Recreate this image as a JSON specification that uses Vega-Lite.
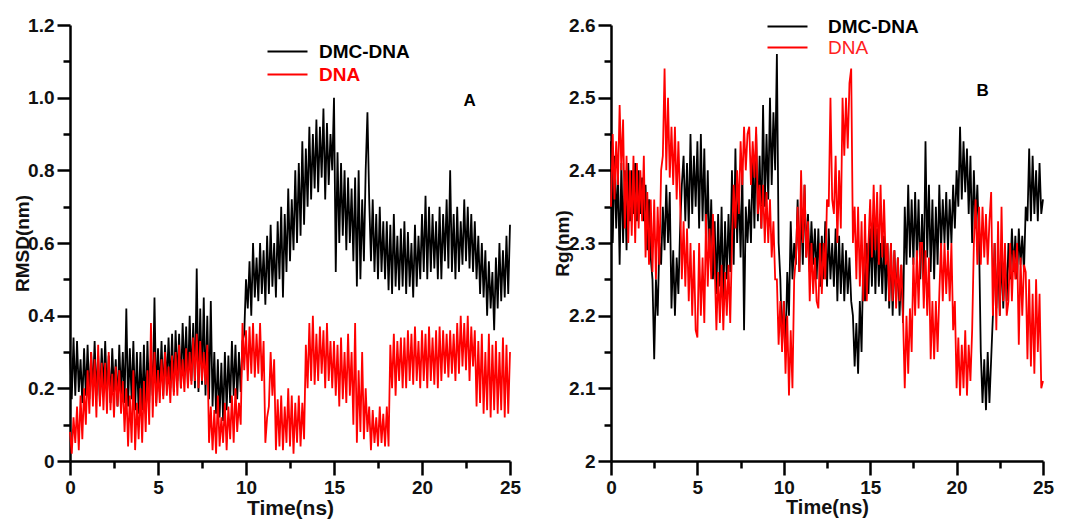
{
  "$schema": "https://vega.github.io/schema/vega-lite/v6.json",
  "padding": {"left": 13, "top": 16, "right": 5, "bottom": 5},
  "background": "white",
  "config": {
    "view": {"stroke": null},
    "font": "Liberation Sans",
    "axis": {
      "grid": false, "domainColor": "#000000", "domainWidth": 2.5, "tickColor": "#000000", "tickWidth": 2.5,
      "labelFont": "Liberation Sans", "labelFontSize": 19, "labelFontWeight": "bold", "labelColor": "#111111", "labelPadding": 3, "labelOverlap": false, "labelFlush": false,
      "titleFont": "Liberation Sans", "titleFontWeight": "bold", "titleColor": "#111111"
    }
  },
  "datasets": {
    "rmsd": [
      {"t":0,"dmc":0.30,"dna":0.08},{"t":0.1,"dmc":0.17,"dna":0.02},{"t":0.2,"dmc":0.34,"dna":0.12},{"t":0.3,"dmc":0.18,"dna":0.05},{"t":0.4,"dmc":0.33,"dna":0.15},{"t":0.5,"dmc":0.19,"dna":0.03},{"t":0.6,"dmc":0.28,"dna":0.18},{"t":0.7,"dmc":0.16,"dna":0.06},{"t":0.8,"dmc":0.31,"dna":0.2},{"t":0.9,"dmc":0.18,"dna":0.1},
      {"t":1,"dmc":0.32,"dna":0.25},{"t":1.1,"dmc":0.17,"dna":0.13},{"t":1.2,"dmc":0.30,"dna":0.3},{"t":1.3,"dmc":0.19,"dna":0.15},{"t":1.4,"dmc":0.33,"dna":0.28},{"t":1.5,"dmc":0.18,"dna":0.12},{"t":1.6,"dmc":0.29,"dna":0.32},{"t":1.7,"dmc":0.16,"dna":0.15},{"t":1.8,"dmc":0.31,"dna":0.27},{"t":1.9,"dmc":0.19,"dna":0.14},
      {"t":2,"dmc":0.33,"dna":0.27},{"t":2.1,"dmc":0.18,"dna":0.13},{"t":2.2,"dmc":0.29,"dna":0.3},{"t":2.3,"dmc":0.16,"dna":0.14},{"t":2.4,"dmc":0.31,"dna":0.24},{"t":2.5,"dmc":0.19,"dna":0.12},{"t":2.6,"dmc":0.28,"dna":0.26},{"t":2.7,"dmc":0.15,"dna":0.15},{"t":2.8,"dmc":0.32,"dna":0.25},{"t":2.9,"dmc":0.18,"dna":0.13},
      {"t":3,"dmc":0.30,"dna":0.22},{"t":3.1,"dmc":0.16,"dna":0.08},{"t":3.2,"dmc":0.42,"dna":0.2},{"t":3.3,"dmc":0.15,"dna":0.04},{"t":3.4,"dmc":0.31,"dna":0.18},{"t":3.5,"dmc":0.17,"dna":0.05},{"t":3.6,"dmc":0.33,"dna":0.25},{"t":3.7,"dmc":0.14,"dna":0.03},{"t":3.8,"dmc":0.30,"dna":0.16},{"t":3.9,"dmc":0.13,"dna":0.06},
      {"t":4,"dmc":0.30,"dna":0.2},{"t":4.1,"dmc":0.14,"dna":0.05},{"t":4.2,"dmc":0.32,"dna":0.22},{"t":4.3,"dmc":0.13,"dna":0.08},{"t":4.4,"dmc":0.33,"dna":0.25},{"t":4.5,"dmc":0.16,"dna":0.1},{"t":4.6,"dmc":0.29,"dna":0.38},{"t":4.7,"dmc":0.18,"dna":0.12},{"t":4.8,"dmc":0.45,"dna":0.3},{"t":4.9,"dmc":0.16,"dna":0.15},
      {"t":5,"dmc":0.31,"dna":0.25},{"t":5.1,"dmc":0.19,"dna":0.16},{"t":5.2,"dmc":0.33,"dna":0.28},{"t":5.3,"dmc":0.18,"dna":0.17},{"t":5.4,"dmc":0.32,"dna":0.3},{"t":5.5,"dmc":0.21,"dna":0.18},{"t":5.6,"dmc":0.34,"dna":0.26},{"t":5.7,"dmc":0.2,"dna":0.16},{"t":5.8,"dmc":0.35,"dna":0.29},{"t":5.9,"dmc":0.19,"dna":0.18},
      {"t":6,"dmc":0.36,"dna":0.3},{"t":6.1,"dmc":0.22,"dna":0.18},{"t":6.2,"dmc":0.35,"dna":0.32},{"t":6.3,"dmc":0.2,"dna":0.2},{"t":6.4,"dmc":0.38,"dna":0.28},{"t":6.5,"dmc":0.24,"dna":0.19},{"t":6.6,"dmc":0.37,"dna":0.31},{"t":6.7,"dmc":0.21,"dna":0.2},{"t":6.8,"dmc":0.4,"dna":0.3},{"t":6.9,"dmc":0.22,"dna":0.21},
      {"t":7,"dmc":0.38,"dna":0.34},{"t":7.1,"dmc":0.2,"dna":0.22},{"t":7.2,"dmc":0.53,"dna":0.35},{"t":7.3,"dmc":0.19,"dna":0.2},{"t":7.4,"dmc":0.42,"dna":0.33},{"t":7.5,"dmc":0.21,"dna":0.22},{"t":7.6,"dmc":0.45,"dna":0.3},{"t":7.7,"dmc":0.18,"dna":0.21},{"t":7.8,"dmc":0.4,"dna":0.32},{"t":7.9,"dmc":0.17,"dna":0.05},
      {"t":8,"dmc":0.44,"dna":0.15},{"t":8.1,"dmc":0.15,"dna":0.03},{"t":8.2,"dmc":0.3,"dna":0.14},{"t":8.3,"dmc":0.13,"dna":0.02},{"t":8.4,"dmc":0.28,"dna":0.18},{"t":8.5,"dmc":0.12,"dna":0.04},{"t":8.6,"dmc":0.27,"dna":0.12},{"t":8.7,"dmc":0.11,"dna":0.05},{"t":8.8,"dmc":0.3,"dna":0.16},{"t":8.9,"dmc":0.14,"dna":0.03},
      {"t":9,"dmc":0.29,"dna":0.15},{"t":9.1,"dmc":0.16,"dna":0.06},{"t":9.2,"dmc":0.33,"dna":0.18},{"t":9.3,"dmc":0.18,"dna":0.05},{"t":9.4,"dmc":0.32,"dna":0.2},{"t":9.5,"dmc":0.17,"dna":0.08},{"t":9.6,"dmc":0.3,"dna":0.16},{"t":9.7,"dmc":0.19,"dna":0.1},{"t":9.8,"dmc":0.33,"dna":0.38},{"t":9.9,"dmc":0.35,"dna":0.25},
      {"t":10,"dmc":0.5,"dna":0.36},{"t":10.1,"dmc":0.42,"dna":0.22},{"t":10.2,"dmc":0.55,"dna":0.37},{"t":10.3,"dmc":0.4,"dna":0.24},{"t":10.4,"dmc":0.6,"dna":0.38},{"t":10.5,"dmc":0.45,"dna":0.23},{"t":10.6,"dmc":0.56,"dna":0.35},{"t":10.7,"dmc":0.44,"dna":0.24},{"t":10.8,"dmc":0.6,"dna":0.38},{"t":10.9,"dmc":0.46,"dna":0.22},
      {"t":11,"dmc":0.58,"dna":0.33},{"t":11.1,"dmc":0.43,"dna":0.05},{"t":11.2,"dmc":0.62,"dna":0.12},{"t":11.3,"dmc":0.46,"dna":0.15},{"t":11.4,"dmc":0.65,"dna":0.3},{"t":11.5,"dmc":0.48,"dna":0.18},{"t":11.6,"dmc":0.6,"dna":0.28},{"t":11.7,"dmc":0.45,"dna":0.03},{"t":11.8,"dmc":0.66,"dna":0.17},{"t":11.9,"dmc":0.5,"dna":0.04},
      {"t":12,"dmc":0.7,"dna":0.18},{"t":12.1,"dmc":0.45,"dna":0.03},{"t":12.2,"dmc":0.68,"dna":0.15},{"t":12.3,"dmc":0.52,"dna":0.05},{"t":12.4,"dmc":0.75,"dna":0.2},{"t":12.5,"dmc":0.55,"dna":0.04},{"t":12.6,"dmc":0.72,"dna":0.18},{"t":12.7,"dmc":0.58,"dna":0.02},{"t":12.8,"dmc":0.8,"dna":0.16},{"t":12.9,"dmc":0.6,"dna":0.05},
      {"t":13,"dmc":0.82,"dna":0.18},{"t":13.1,"dmc":0.62,"dna":0.04},{"t":13.2,"dmc":0.88,"dna":0.16},{"t":13.3,"dmc":0.65,"dna":0.06},{"t":13.4,"dmc":0.86,"dna":0.32},{"t":13.5,"dmc":0.7,"dna":0.2},{"t":13.6,"dmc":0.92,"dna":0.38},{"t":13.7,"dmc":0.72,"dna":0.22},{"t":13.8,"dmc":0.9,"dna":0.4},{"t":13.9,"dmc":0.75,"dna":0.21},
      {"t":14,"dmc":0.94,"dna":0.35},{"t":14.1,"dmc":0.74,"dna":0.22},{"t":14.2,"dmc":0.92,"dna":0.37},{"t":14.3,"dmc":0.78,"dna":0.24},{"t":14.4,"dmc":0.97,"dna":0.36},{"t":14.5,"dmc":0.72,"dna":0.2},{"t":14.6,"dmc":0.93,"dna":0.38},{"t":14.7,"dmc":0.76,"dna":0.22},{"t":14.8,"dmc":0.9,"dna":0.33},{"t":14.9,"dmc":0.8,"dna":0.2},
      {"t":15,"dmc":1.0,"dna":0.33},{"t":15.1,"dmc":0.52,"dna":0.18},{"t":15.2,"dmc":0.85,"dna":0.32},{"t":15.3,"dmc":0.6,"dna":0.15},{"t":15.4,"dmc":0.82,"dna":0.34},{"t":15.5,"dmc":0.62,"dna":0.17},{"t":15.6,"dmc":0.8,"dna":0.3},{"t":15.7,"dmc":0.58,"dna":0.16},{"t":15.8,"dmc":0.78,"dna":0.35},{"t":15.9,"dmc":0.6,"dna":0.18},
      {"t":16,"dmc":0.75,"dna":0.3},{"t":16.1,"dmc":0.55,"dna":0.1},{"t":16.2,"dmc":0.78,"dna":0.38},{"t":16.3,"dmc":0.48,"dna":0.05},{"t":16.4,"dmc":0.8,"dna":0.25},{"t":16.5,"dmc":0.5,"dna":0.08},{"t":16.6,"dmc":0.72,"dna":0.3},{"t":16.7,"dmc":0.55,"dna":0.06},{"t":16.8,"dmc":0.8,"dna":0.2},{"t":16.9,"dmc":0.96,"dna":0.08},
      {"t":17,"dmc":0.72,"dna":0.15},{"t":17.1,"dmc":0.55,"dna":0.03},{"t":17.2,"dmc":0.72,"dna":0.14},{"t":17.3,"dmc":0.52,"dna":0.05},{"t":17.4,"dmc":0.68,"dna":0.12},{"t":17.5,"dmc":0.5,"dna":0.04},{"t":17.6,"dmc":0.7,"dna":0.15},{"t":17.7,"dmc":0.52,"dna":0.05},{"t":17.8,"dmc":0.66,"dna":0.13},{"t":17.9,"dmc":0.5,"dna":0.04},
      {"t":18,"dmc":0.66,"dna":0.15},{"t":18.1,"dmc":0.47,"dna":0.04},{"t":18.2,"dmc":0.65,"dna":0.32},{"t":18.3,"dmc":0.46,"dna":0.2},{"t":18.4,"dmc":0.68,"dna":0.35},{"t":18.5,"dmc":0.48,"dna":0.18},{"t":18.6,"dmc":0.62,"dna":0.33},{"t":18.7,"dmc":0.47,"dna":0.22},{"t":18.8,"dmc":0.64,"dna":0.34},{"t":18.9,"dmc":0.48,"dna":0.2},
      {"t":19,"dmc":0.66,"dna":0.34},{"t":19.1,"dmc":0.46,"dna":0.2},{"t":19.2,"dmc":0.63,"dna":0.36},{"t":19.3,"dmc":0.48,"dna":0.22},{"t":19.4,"dmc":0.6,"dna":0.35},{"t":19.5,"dmc":0.45,"dna":0.21},{"t":19.6,"dmc":0.65,"dna":0.37},{"t":19.7,"dmc":0.48,"dna":0.22},{"t":19.8,"dmc":0.62,"dna":0.33},{"t":19.9,"dmc":0.5,"dna":0.2},
      {"t":20,"dmc":0.68,"dna":0.36},{"t":20.1,"dmc":0.52,"dna":0.22},{"t":20.2,"dmc":0.73,"dna":0.35},{"t":20.3,"dmc":0.5,"dna":0.2},{"t":20.4,"dmc":0.7,"dna":0.37},{"t":20.5,"dmc":0.52,"dna":0.22},{"t":20.6,"dmc":0.68,"dna":0.34},{"t":20.7,"dmc":0.53,"dna":0.21},{"t":20.8,"dmc":0.66,"dna":0.36},{"t":20.9,"dmc":0.5,"dna":0.2},
      {"t":21,"dmc":0.7,"dna":0.37},{"t":21.1,"dmc":0.5,"dna":0.22},{"t":21.2,"dmc":0.68,"dna":0.36},{"t":21.3,"dmc":0.55,"dna":0.24},{"t":21.4,"dmc":0.72,"dna":0.35},{"t":21.5,"dmc":0.53,"dna":0.23},{"t":21.6,"dmc":0.8,"dna":0.36},{"t":21.7,"dmc":0.52,"dna":0.24},{"t":21.8,"dmc":0.68,"dna":0.35},{"t":21.9,"dmc":0.5,"dna":0.22},
      {"t":22,"dmc":0.7,"dna":0.38},{"t":22.1,"dmc":0.52,"dna":0.24},{"t":22.2,"dmc":0.66,"dna":0.4},{"t":22.3,"dmc":0.54,"dna":0.26},{"t":22.4,"dmc":0.72,"dna":0.38},{"t":22.5,"dmc":0.55,"dna":0.25},{"t":22.6,"dmc":0.7,"dna":0.4},{"t":22.7,"dmc":0.53,"dna":0.22},{"t":22.8,"dmc":0.68,"dna":0.37},{"t":22.9,"dmc":0.52,"dna":0.26},
      {"t":23,"dmc":0.66,"dna":0.36},{"t":23.1,"dmc":0.5,"dna":0.15},{"t":23.2,"dmc":0.62,"dna":0.33},{"t":23.3,"dmc":0.46,"dna":0.16},{"t":23.4,"dmc":0.6,"dna":0.35},{"t":23.5,"dmc":0.45,"dna":0.13},{"t":23.6,"dmc":0.58,"dna":0.3},{"t":23.7,"dmc":0.4,"dna":0.14},{"t":23.8,"dmc":0.55,"dna":0.35},{"t":23.9,"dmc":0.42,"dna":0.12},
      {"t":24,"dmc":0.52,"dna":0.32},{"t":24.1,"dmc":0.36,"dna":0.14},{"t":24.2,"dmc":0.56,"dna":0.33},{"t":24.3,"dmc":0.42,"dna":0.13},{"t":24.4,"dmc":0.6,"dna":0.3},{"t":24.5,"dmc":0.44,"dna":0.14},{"t":24.6,"dmc":0.58,"dna":0.34},{"t":24.7,"dmc":0.45,"dna":0.12},{"t":24.8,"dmc":0.62,"dna":0.32},{"t":24.9,"dmc":0.46,"dna":0.13},
      {"t":25,"dmc":0.65,"dna":0.3}
    ],
    "rg": [
      {"t":0,"dmc":2.44,"dna":2.35},{"t":0.1,"dmc":2.3,"dna":2.45},{"t":0.2,"dmc":2.42,"dna":2.36},{"t":0.3,"dmc":2.32,"dna":2.44},{"t":0.4,"dmc":2.4,"dna":2.38},{"t":0.5,"dmc":2.27,"dna":2.49},{"t":0.6,"dmc":2.41,"dna":2.4},{"t":0.7,"dmc":2.3,"dna":2.47},{"t":0.8,"dmc":2.4,"dna":2.32},{"t":0.9,"dmc":2.29,"dna":2.42},
      {"t":1,"dmc":2.41,"dna":2.3},{"t":1.1,"dmc":2.33,"dna":2.4},{"t":1.2,"dmc":2.4,"dna":2.31},{"t":1.3,"dmc":2.34,"dna":2.42},{"t":1.4,"dmc":2.41,"dna":2.3},{"t":1.5,"dmc":2.33,"dna":2.41},{"t":1.6,"dmc":2.4,"dna":2.32},{"t":1.7,"dmc":2.34,"dna":2.4},{"t":1.8,"dmc":2.39,"dna":2.33},{"t":1.9,"dmc":2.33,"dna":2.42},
      {"t":2,"dmc":2.38,"dna":2.28},{"t":2.1,"dmc":2.29,"dna":2.37},{"t":2.2,"dmc":2.36,"dna":2.27},{"t":2.3,"dmc":2.28,"dna":2.36},{"t":2.4,"dmc":2.25,"dna":2.26},{"t":2.5,"dmc":2.14,"dna":2.36},{"t":2.6,"dmc":2.25,"dna":2.25},{"t":2.7,"dmc":2.2,"dna":2.35},{"t":2.8,"dmc":2.3,"dna":2.27},{"t":2.9,"dmc":2.27,"dna":2.4},
      {"t":3,"dmc":2.35,"dna":2.42},{"t":3.1,"dmc":2.29,"dna":2.54},{"t":3.2,"dmc":2.38,"dna":2.4},{"t":3.3,"dmc":2.3,"dna":2.5},{"t":3.4,"dmc":2.37,"dna":2.39},{"t":3.5,"dmc":2.21,"dna":2.46},{"t":3.6,"dmc":2.29,"dna":2.38},{"t":3.7,"dmc":2.2,"dna":2.46},{"t":3.8,"dmc":2.28,"dna":2.36},{"t":3.9,"dmc":2.23,"dna":2.44},
      {"t":4,"dmc":2.32,"dna":2.36},{"t":4.1,"dmc":2.38,"dna":2.25},{"t":4.2,"dmc":2.42,"dna":2.33},{"t":4.3,"dmc":2.33,"dna":2.24},{"t":4.4,"dmc":2.41,"dna":2.32},{"t":4.5,"dmc":2.32,"dna":2.22},{"t":4.6,"dmc":2.45,"dna":2.3},{"t":4.7,"dmc":2.34,"dna":2.2},{"t":4.8,"dmc":2.42,"dna":2.29},{"t":4.9,"dmc":2.35,"dna":2.18},
      {"t":5,"dmc":2.44,"dna":2.17},{"t":5.1,"dmc":2.32,"dna":2.3},{"t":5.2,"dmc":2.45,"dna":2.2},{"t":5.3,"dmc":2.33,"dna":2.28},{"t":5.4,"dmc":2.43,"dna":2.19},{"t":5.5,"dmc":2.3,"dna":2.34},{"t":5.6,"dmc":2.4,"dna":2.24},{"t":5.7,"dmc":2.28,"dna":2.32},{"t":5.8,"dmc":2.36,"dna":2.25},{"t":5.9,"dmc":2.25,"dna":2.34},
      {"t":6,"dmc":2.33,"dna":2.27},{"t":6.1,"dmc":2.23,"dna":2.18},{"t":6.2,"dmc":2.34,"dna":2.26},{"t":6.3,"dmc":2.24,"dna":2.19},{"t":6.4,"dmc":2.35,"dna":2.27},{"t":6.5,"dmc":2.22,"dna":2.18},{"t":6.6,"dmc":2.33,"dna":2.26},{"t":6.7,"dmc":2.25,"dna":2.2},{"t":6.8,"dmc":2.34,"dna":2.27},{"t":6.9,"dmc":2.26,"dna":2.19},
      {"t":7,"dmc":2.4,"dna":2.3},{"t":7.1,"dmc":2.27,"dna":2.38},{"t":7.2,"dmc":2.43,"dna":2.32},{"t":7.3,"dmc":2.3,"dna":2.4},{"t":7.4,"dmc":2.38,"dna":2.34},{"t":7.5,"dmc":2.28,"dna":2.44},{"t":7.6,"dmc":2.4,"dna":2.38},{"t":7.7,"dmc":2.18,"dna":2.46},{"t":7.8,"dmc":2.35,"dna":2.4},{"t":7.9,"dmc":2.3,"dna":2.45},
      {"t":8,"dmc":2.36,"dna":2.46},{"t":8.1,"dmc":2.3,"dna":2.38},{"t":8.2,"dmc":2.42,"dna":2.44},{"t":8.3,"dmc":2.32,"dna":2.39},{"t":8.4,"dmc":2.45,"dna":2.46},{"t":8.5,"dmc":2.33,"dna":2.34},{"t":8.6,"dmc":2.42,"dna":2.38},{"t":8.7,"dmc":2.32,"dna":2.32},{"t":8.8,"dmc":2.49,"dna":2.38},{"t":8.9,"dmc":2.35,"dna":2.3},
      {"t":9,"dmc":2.45,"dna":2.37},{"t":9.1,"dmc":2.36,"dna":2.3},{"t":9.2,"dmc":2.5,"dna":2.36},{"t":9.3,"dmc":2.38,"dna":2.28},{"t":9.4,"dmc":2.48,"dna":2.33},{"t":9.5,"dmc":2.4,"dna":2.25},{"t":9.6,"dmc":2.56,"dna":2.25},{"t":9.7,"dmc":2.3,"dna":2.16},{"t":9.8,"dmc":2.25,"dna":2.22},{"t":9.9,"dmc":2.16,"dna":2.15},
      {"t":10,"dmc":2.22,"dna":2.22},{"t":10.1,"dmc":2.15,"dna":2.12},{"t":10.2,"dmc":2.26,"dna":2.2},{"t":10.3,"dmc":2.2,"dna":2.09},{"t":10.4,"dmc":2.33,"dna":2.18},{"t":10.5,"dmc":2.25,"dna":2.1},{"t":10.6,"dmc":2.3,"dna":2.25},{"t":10.7,"dmc":2.27,"dna":2.28},{"t":10.8,"dmc":2.36,"dna":2.35},{"t":10.9,"dmc":2.26,"dna":2.26},
      {"t":11,"dmc":2.35,"dna":2.4},{"t":11.1,"dmc":2.27,"dna":2.3},{"t":11.2,"dmc":2.38,"dna":2.38},{"t":11.3,"dmc":2.28,"dna":2.28},{"t":11.4,"dmc":2.34,"dna":2.33},{"t":11.5,"dmc":2.26,"dna":2.22},{"t":11.6,"dmc":2.33,"dna":2.3},{"t":11.7,"dmc":2.27,"dna":2.23},{"t":11.8,"dmc":2.32,"dna":2.28},{"t":11.9,"dmc":2.25,"dna":2.22},
      {"t":12,"dmc":2.32,"dna":2.21},{"t":12.1,"dmc":2.24,"dna":2.3},{"t":12.2,"dmc":2.31,"dna":2.23},{"t":12.3,"dmc":2.25,"dna":2.3},{"t":12.4,"dmc":2.33,"dna":2.25},{"t":12.5,"dmc":2.24,"dna":2.36},{"t":12.6,"dmc":2.32,"dna":2.35},{"t":12.7,"dmc":2.25,"dna":2.5},{"t":12.8,"dmc":2.3,"dna":2.36},{"t":12.9,"dmc":2.24,"dna":2.34},
      {"t":13,"dmc":2.32,"dna":2.42},{"t":13.1,"dmc":2.22,"dna":2.3},{"t":13.2,"dmc":2.31,"dna":2.4},{"t":13.3,"dmc":2.23,"dna":2.32},{"t":13.4,"dmc":2.3,"dna":2.5},{"t":13.5,"dmc":2.22,"dna":2.42},{"t":13.6,"dmc":2.29,"dna":2.5},{"t":13.7,"dmc":2.23,"dna":2.43},{"t":13.8,"dmc":2.28,"dna":2.52},{"t":13.9,"dmc":2.22,"dna":2.54},
      {"t":14,"dmc":2.2,"dna":2.3},{"t":14.1,"dmc":2.13,"dna":2.35},{"t":14.2,"dmc":2.19,"dna":2.25},{"t":14.3,"dmc":2.12,"dna":2.35},{"t":14.4,"dmc":2.22,"dna":2.24},{"t":14.5,"dmc":2.15,"dna":2.33},{"t":14.6,"dmc":2.28,"dna":2.22},{"t":14.7,"dmc":2.22,"dna":2.34},{"t":14.8,"dmc":2.3,"dna":2.22},{"t":14.9,"dmc":2.23,"dna":2.3},
      {"t":15,"dmc":2.32,"dna":2.36},{"t":15.1,"dmc":2.24,"dna":2.28},{"t":15.2,"dmc":2.33,"dna":2.38},{"t":15.3,"dmc":2.23,"dna":2.29},{"t":15.4,"dmc":2.32,"dna":2.37},{"t":15.5,"dmc":2.24,"dna":2.27},{"t":15.6,"dmc":2.3,"dna":2.38},{"t":15.7,"dmc":2.23,"dna":2.28},{"t":15.8,"dmc":2.31,"dna":2.36},{"t":15.9,"dmc":2.22,"dna":2.27},
      {"t":16,"dmc":2.3,"dna":2.3},{"t":16.1,"dmc":2.21,"dna":2.22},{"t":16.2,"dmc":2.3,"dna":2.3},{"t":16.3,"dmc":2.2,"dna":2.22},{"t":16.4,"dmc":2.29,"dna":2.29},{"t":16.5,"dmc":2.22,"dna":2.21},{"t":16.6,"dmc":2.28,"dna":2.28},{"t":16.7,"dmc":2.2,"dna":2.22},{"t":16.8,"dmc":2.27,"dna":2.27},{"t":16.9,"dmc":2.19,"dna":2.2},
      {"t":17,"dmc":2.35,"dna":2.1},{"t":17.1,"dmc":2.27,"dna":2.2},{"t":17.2,"dmc":2.38,"dna":2.12},{"t":17.3,"dmc":2.28,"dna":2.21},{"t":17.4,"dmc":2.36,"dna":2.15},{"t":17.5,"dmc":2.27,"dna":2.28},{"t":17.6,"dmc":2.37,"dna":2.2},{"t":17.7,"dmc":2.28,"dna":2.29},{"t":17.8,"dmc":2.36,"dna":2.21},{"t":17.9,"dmc":2.25,"dna":2.3},
      {"t":18,"dmc":2.34,"dna":2.3},{"t":18.1,"dmc":2.25,"dna":2.21},{"t":18.2,"dmc":2.44,"dna":2.29},{"t":18.3,"dmc":2.28,"dna":2.2},{"t":18.4,"dmc":2.38,"dna":2.28},{"t":18.5,"dmc":2.26,"dna":2.14},{"t":18.6,"dmc":2.36,"dna":2.22},{"t":18.7,"dmc":2.25,"dna":2.14},{"t":18.8,"dmc":2.35,"dna":2.22},{"t":18.9,"dmc":2.27,"dna":2.15},
      {"t":19,"dmc":2.38,"dna":2.23},{"t":19.1,"dmc":2.29,"dna":2.3},{"t":19.2,"dmc":2.36,"dna":2.22},{"t":19.3,"dmc":2.3,"dna":2.3},{"t":19.4,"dmc":2.37,"dna":2.23},{"t":19.5,"dmc":2.29,"dna":2.29},{"t":19.6,"dmc":2.36,"dna":2.22},{"t":19.7,"dmc":2.3,"dna":2.3},{"t":19.8,"dmc":2.38,"dna":2.18},{"t":19.9,"dmc":2.32,"dna":2.22},
      {"t":20,"dmc":2.4,"dna":2.1},{"t":20.1,"dmc":2.35,"dna":2.17},{"t":20.2,"dmc":2.46,"dna":2.09},{"t":20.3,"dmc":2.36,"dna":2.16},{"t":20.4,"dmc":2.44,"dna":2.1},{"t":20.5,"dmc":2.37,"dna":2.18},{"t":20.6,"dmc":2.43,"dna":2.09},{"t":20.7,"dmc":2.34,"dna":2.16},{"t":20.8,"dmc":2.42,"dna":2.11},{"t":20.9,"dmc":2.3,"dna":2.18},
      {"t":21,"dmc":2.4,"dna":2.3},{"t":21.1,"dmc":2.32,"dna":2.36},{"t":21.2,"dmc":2.38,"dna":2.27},{"t":21.3,"dmc":2.3,"dna":2.35},{"t":21.4,"dmc":2.15,"dna":2.27},{"t":21.5,"dmc":2.08,"dna":2.35},{"t":21.6,"dmc":2.14,"dna":2.28},{"t":21.7,"dmc":2.07,"dna":2.34},{"t":21.8,"dmc":2.15,"dna":2.27},{"t":21.9,"dmc":2.08,"dna":2.33},
      {"t":22,"dmc":2.14,"dna":2.37},{"t":22.1,"dmc":2.2,"dna":2.2},{"t":22.2,"dmc":2.3,"dna":2.3},{"t":22.3,"dmc":2.21,"dna":2.18},{"t":22.4,"dmc":2.28,"dna":2.33},{"t":22.5,"dmc":2.2,"dna":2.2},{"t":22.6,"dmc":2.29,"dna":2.35},{"t":22.7,"dmc":2.21,"dna":2.22},{"t":22.8,"dmc":2.28,"dna":2.3},{"t":22.9,"dmc":2.22,"dna":2.2},
      {"t":23,"dmc":2.3,"dna":2.22},{"t":23.1,"dmc":2.25,"dna":2.3},{"t":23.2,"dmc":2.32,"dna":2.22},{"t":23.3,"dmc":2.26,"dna":2.29},{"t":23.4,"dmc":2.31,"dna":2.25},{"t":23.5,"dmc":2.25,"dna":2.3},{"t":23.6,"dmc":2.32,"dna":2.16},{"t":23.7,"dmc":2.27,"dna":2.28},{"t":23.8,"dmc":2.31,"dna":2.2},{"t":23.9,"dmc":2.26,"dna":2.27},
      {"t":24,"dmc":2.35,"dna":2.26},{"t":24.1,"dmc":2.33,"dna":2.14},{"t":24.2,"dmc":2.43,"dna":2.25},{"t":24.3,"dmc":2.33,"dna":2.13},{"t":24.4,"dmc":2.42,"dna":2.23},{"t":24.5,"dmc":2.34,"dna":2.12},{"t":24.6,"dmc":2.4,"dna":2.25},{"t":24.7,"dmc":2.33,"dna":2.15},{"t":24.8,"dmc":2.41,"dna":2.23},{"t":24.9,"dmc":2.34,"dna":2.1},
      {"t":25,"dmc":2.36,"dna":2.11}
    ]
  },
  "bounds": "flush",
  "spacing": 101,
  "resolve": {"scale": {"color": "independent", "x": "independent", "y": "independent"}, "legend": {"color": "independent"}},
  "hconcat": [
    {
      "width": 440,
      "height": 436,
      "resolve": {"axis": {"x": "independent", "y": "independent"}},
      "layer": [
        {
          "data": {"name": "rmsd"},
          "transform": [{"fold": ["dmc", "dna"], "as": ["series", "v"]}],
          "mark": {"type": "line", "strokeWidth": 1.8},
          "encoding": {
            "x": {
              "field": "t", "type": "quantitative",
              "scale": {"domain": [0, 25], "nice": false, "zero": false},
              "axis": {
                "orient": "bottom", "values": [0, 5, 10, 15, 20, 25], "tickSize": 14,
                "title": "Time(ns)", "titleFontSize": 21, "titleY": 47, "titleBaseline": "middle"
              }
            },
            "y": {
              "field": "v", "type": "quantitative",
              "scale": {"domain": [0, 1.2], "nice": false},
              "axis": {
                "orient": "left", "values": [0, 0.2, 0.4, 0.6, 0.8, 1.0, 1.2], "tickSize": 13,
                "labelExpr": "datum.value === 0 ? '0' : format(datum.value, '.1f')",
                "title": "RMSD(nm)", "titleFontSize": 19, "titleX": -48, "titleBaseline": "middle"
              }
            },
            "color": {
              "field": "series", "type": "nominal",
              "scale": {"domain": ["dmc", "dna"], "range": ["#000000", "#ff0000"]},
              "legend": {
                "orient": "none", "title": null, "padding": 0,
                "symbolType": "M-4,0H4", "symbolSize": 100, "symbolStrokeWidth": 2,
                "labelFont": "Liberation Sans", "labelFontSize": 19, "labelFontWeight": "bold",
                "labelExpr": "datum.value === 'dmc' ? 'DMC-DNA' : 'DNA'",
                "legendX": 208, "legendY": 17, "labelOffset": 22, "rowPadding": 3,
                "encode": {"labels": {"update": {"fill": {"signal": "datum.value === 'dna' ? '#ff0000' : '#000000'"}}}}
              }
            }
          }
        },
        {
          "data": {"values": [{"panel": "A"}]},
          "mark": {"type": "text", "font": "Liberation Sans", "fontSize": 17, "fontWeight": "bold", "color": "#000000"},
          "encoding": {
            "x": {"datum": 22.7, "type": "quantitative", "axis": {"orient": "bottom", "values": [2.5, 7.5, 12.5, 17.5, 22.5], "tickSize": 7, "labels": false, "domain": false, "title": null}},
            "y": {"datum": 0.99, "type": "quantitative", "axis": {"orient": "left", "values": [0.1, 0.3, 0.5, 0.7, 0.9, 1.1], "tickSize": 7, "labels": false, "domain": false, "title": null}},
            "text": {"field": "panel"}
          }
        }
      ]
    },
    {
      "width": 432,
      "height": 436,
      "resolve": {"axis": {"x": "independent", "y": "independent"}},
      "layer": [
        {
          "data": {"name": "rg"},
          "transform": [{"fold": ["dmc", "dna"], "as": ["series", "v"]}],
          "mark": {"type": "line", "strokeWidth": 1.8},
          "encoding": {
            "x": {
              "field": "t", "type": "quantitative",
              "scale": {"domain": [0, 25], "nice": false, "zero": false},
              "axis": {
                "orient": "bottom", "values": [0, 5, 10, 15, 20, 25], "tickSize": 14,
                "title": "Time(ns)", "titleFontSize": 20, "titleY": 46, "titleBaseline": "middle"
              }
            },
            "y": {
              "field": "v", "type": "quantitative",
              "scale": {"domain": [2, 2.6], "nice": false, "zero": false},
              "axis": {
                "orient": "left", "values": [2, 2.1, 2.2, 2.3, 2.4, 2.5, 2.6], "tickSize": 13,
                "labelExpr": "datum.value === 2 ? '2' : format(datum.value, '.1f')",
                "title": "Rg(nm)", "titleFontSize": 19, "titleX": -49, "titleBaseline": "middle"
              }
            },
            "color": {
              "field": "series", "type": "nominal",
              "scale": {"domain": ["dmc", "dna"], "range": ["#000000", "#ff0000"]},
              "legend": {
                "orient": "none", "title": null, "padding": 0,
                "symbolType": "M-4,0H4", "symbolSize": 100, "symbolStrokeWidth": 2,
                "labelFont": "Liberation Sans", "labelFontSize": 19, "labelFontWeight": "bold",
                "labelExpr": "datum.value === 'dmc' ? 'DMC-DNA' : 'DNA'",
                "legendX": 167, "legendY": -8, "labelOffset": 31, "rowPadding": 1,
                "encode": {"labels": {"update": {
                  "fill": {"signal": "datum.value === 'dna' ? '#ff2020' : '#000000'"},
                  "fontWeight": {"signal": "datum.value === 'dna' ? 'normal' : 'bold'"}
                }}}
              }
            }
          }
        },
        {
          "data": {"values": [{"panel": "B"}]},
          "mark": {"type": "text", "font": "Liberation Sans", "fontSize": 17, "fontWeight": "bold", "color": "#000000"},
          "encoding": {
            "x": {"datum": 21.5, "type": "quantitative", "axis": {"orient": "bottom", "values": [2.5, 7.5, 12.5, 17.5, 22.5], "tickSize": 7, "labels": false, "domain": false, "title": null}},
            "y": {"datum": 2.509, "type": "quantitative", "axis": {"orient": "left", "values": [2.05, 2.15, 2.25, 2.35, 2.45, 2.55], "tickSize": 7, "labels": false, "domain": false, "title": null}},
            "text": {"field": "panel"}
          }
        }
      ]
    }
  ]
}
